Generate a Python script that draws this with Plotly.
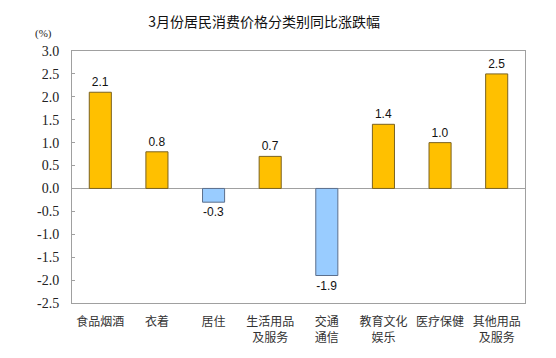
import plotly.graph_objects as go

categories = ["食品烟酒", "衣着", "居住", "生活用品<br>及服务", "交通<br>通信", "教育文化<br>娱乐", "医疗保健", "其他用品<br>及服务"]
values = [2.1, 0.8, -0.3, 0.7, -1.9, 1.4, 1.0, 2.5]
y_ticks = [3.0, 2.5, 2.0, 1.5, 1.0, 0.5, 0.0, -0.5, -1.0, -1.5, -2.0, -2.5]

fill = ["#FFC000" if v >= 0 else "#99CCFF" for v in values]
edge = ["#7A6220" if v >= 0 else "#5C6F8C" for v in values]

SERIF = "Times New Roman, Liberation Serif, serif"

fig = go.Figure(go.Bar(
    x=list(range(len(categories))), y=values,
    marker=dict(color=fill, line=dict(color=edge, width=1)),
    width=0.39,
    text=[f"{v:.1f}" for v in values], textposition="outside",
    textfont=dict(family="Liberation Sans, Arial", size=12, color="#111"),
    cliponaxis=False,
))

fig.update_layout(
    width=556, height=358,
    margin=dict(l=72, r=31, t=51, b=55, autoexpand=False),
    paper_bgcolor="white", plot_bgcolor="white",
    showlegend=False,
    title=dict(text="3月份居民消费价格分类别同比涨跌幅", x=0.475, xanchor="center", y=0.938, yanchor="middle",
               automargin=False,
               font=dict(family="Noto Sans CJK SC", size=14, color="#111")),
    annotations=[dict(text="(%)", xref="paper", yref="paper", x=-0.062, y=1.035, xanchor="center", yanchor="bottom",
                      showarrow=False, font=dict(family=SERIF, size=11, color="#222"))],
)
fig.update_xaxes(
    tickmode="array", tickvals=list(range(len(categories))), ticktext=categories,
    range=[-0.5, len(categories) - 0.5], automargin=False,
    showline=True, linecolor="#A0A0A0", linewidth=1, mirror=True,
    showgrid=False, zeroline=False, ticks="outside", ticklen=8, tickcolor="rgba(0,0,0,0)",
    tickfont=dict(family="Noto Sans CJK SC", size=12, color="#333"),
)
fig.update_yaxes(
    range=[-2.5, 3.0], tickvals=y_ticks, ticktext=[f"{t:.1f}" for t in y_ticks], automargin=False,
    showline=True, linecolor="#A0A0A0", linewidth=1, mirror=True,
    showgrid=False, zeroline=True, zerolinecolor="#A0A0A0", zerolinewidth=1,
    ticks="inside", ticklen=3, tickcolor="#A0A0A0", ticklabelstandoff=9,
    tickfont=dict(family=SERIF, size=14, color="#222"),
)

fig.write_html("out.html", config={"displayModeBar": False},
               post_script="document.body.style.margin='0';")
